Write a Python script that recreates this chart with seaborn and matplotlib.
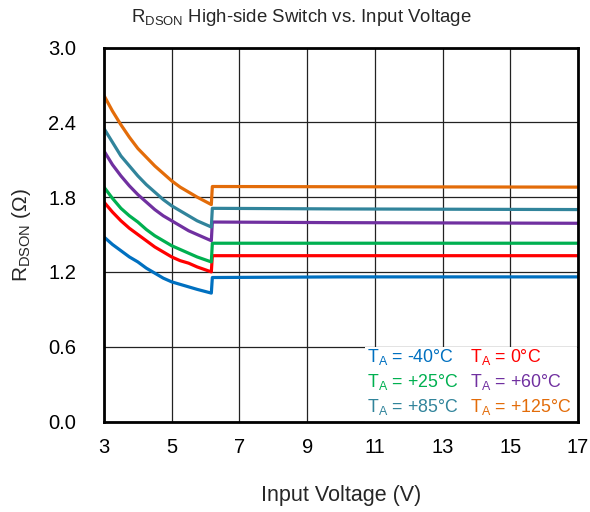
import numpy as np
import pandas as pd
import matplotlib
matplotlib.use("Agg")
import matplotlib.pyplot as plt
from matplotlib.patches import Rectangle
import seaborn as sns

# ---- data ----
voltage = [3.0, 3.25, 3.5, 3.75, 4.0, 4.25, 4.5, 4.75, 5.0, 5.25, 5.5, 5.75, 6.17,
           6.2, 10.0, 17.0]
r_m40 = [1.48, 1.42, 1.37, 1.32, 1.28, 1.23, 1.19, 1.15, 1.12, 1.10, 1.08, 1.06, 1.03,
         1.155, 1.16, 1.16]
r_0 = [1.76, 1.68, 1.61, 1.55, 1.50, 1.45, 1.40, 1.36, 1.32, 1.29, 1.27, 1.24, 1.20,
       1.33, 1.33, 1.33]
r_25 = [1.88, 1.79, 1.71, 1.65, 1.60, 1.54, 1.49, 1.45, 1.41, 1.38, 1.35, 1.32, 1.28,
        1.43, 1.43, 1.43]
r_60 = [2.17, 2.06, 1.97, 1.89, 1.82, 1.76, 1.70, 1.65, 1.61, 1.57, 1.53, 1.50, 1.45,
        1.60, 1.595, 1.59]
r_85 = [2.35, 2.24, 2.13, 2.05, 1.97, 1.90, 1.84, 1.78, 1.73, 1.69, 1.65, 1.61, 1.56,
        1.71, 1.705, 1.70]
r_125 = [2.615, 2.49, 2.38, 2.28, 2.19, 2.12, 2.05, 1.99, 1.93, 1.88, 1.84, 1.80, 1.74,
         1.885, 1.883, 1.88]

series_names = ["-40", "0", "+25", "+60", "+85", "+125"]
series_vals = [r_m40, r_0, r_25, r_60, r_85, r_125]
colors = ["#0070C0", "#FF0000", "#00B050", "#7030A0", "#31849B", "#E36C09"]

x_ticks = [3, 5, 7, 9, 11, 13, 15, 17]
y_ticks = [0.0, 0.6, 1.2, 1.8, 2.4, 3.0]

rows = []
for name, vals in zip(series_names, series_vals):
    for v, r in zip(voltage, vals):
        rows.append({"V": v, "R": r, "T": name})
df = pd.DataFrame(rows)

sns.set_style("white")
plt.rcParams["font.family"] = ["Liberation Sans", "DejaVu Sans"]
plt.rcParams["mathtext.fontset"] = "custom"
plt.rcParams["mathtext.rm"] = "Liberation Sans"
plt.rcParams["mathtext.it"] = "Liberation Sans:italic"
plt.rcParams["mathtext.bf"] = "Liberation Sans:bold"

fig = plt.figure(figsize=(5.9, 5.12), dpi=100)
ax = fig.add_axes([104 / 590, 1 - 421.5 / 512, (578 - 104) / 590, (421.5 - 47.5) / 512])

sns.lineplot(data=df, x="V", y="R", hue="T", hue_order=series_names,
             palette=colors, estimator=None, sort=False, linewidth=2.3,
             legend=False, ax=ax)

ax.set_xlim(3, 17)
ax.set_ylim(0, 3.0)
ax.set_xticks(x_ticks)
ax.set_yticks(y_ticks)
ax.set_xticklabels([str(t) for t in x_ticks])
ax.set_yticklabels([f"{t:.1f}" for t in y_ticks])
ax.grid(True, color="#222222", linewidth=0.9)
ax.set_axisbelow(True)
for s in ax.spines.values():
    s.set_visible(True)
    s.set_color("black")
    s.set_linewidth(2.0)
ax.tick_params(direction="in", length=4, width=0.8, labelsize=14.5, colors="black")
ax.tick_params(axis="y", pad=20)
ax.tick_params(axis="x", pad=12)

# white legend box hiding the grid
ax.add_patch(Rectangle(((365 - 104) / 474, 0.0), (577 - 365) / 474, (421.5 - 346.5) / 374,
                       transform=ax.transAxes, facecolor="white", edgecolor="none",
                       zorder=0.8))

ax.set_xlabel("Input Voltage (V)", fontsize=15.5, labelpad=20)
ax.set_ylabel(r"R$_{\mathrm{DSON}}$ ($\Omega$)", fontsize=15, labelpad=11)
fig.text(301 / 590, 1 - 17 / 512, r"R$_{\mathrm{DSON}}$ High-side Switch vs. Input Voltage",
         ha="center", va="center", fontsize=13.4)

# legend as colored text
leg_x = [367, 470]
leg_y = [357, 382, 407]
for i, (name, c) in enumerate(zip(series_names, colors)):
    col = i % 2
    row = i // 2
    fig.text(leg_x[col] / 590, 1 - leg_y[row] / 512,
             r"T$_{\mathrm{A}}$ = " + name + "°C",
             color=c, fontsize=12.8, ha="left", va="center")

fig.savefig("out.png", dpi=100)
